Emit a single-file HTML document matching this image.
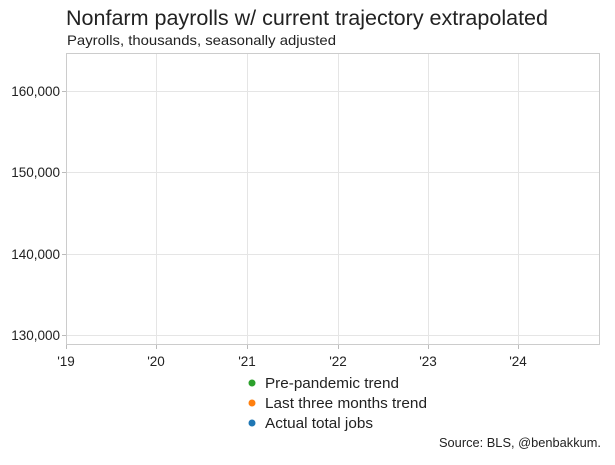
<!DOCTYPE html>
<html><head><style>
body{margin:0;background:#fff;}
svg text{font-family:"Liberation Sans",sans-serif;fill:#222;}
</style></head><body>
<svg width="615" height="460" xmlns="http://www.w3.org/2000/svg">
<text x="66" y="25" font-size="21" fill="#333" textLength="482" lengthAdjust="spacingAndGlyphs">Nonfarm payrolls w/ current trajectory extrapolated</text>
<text x="67" y="45" font-size="14" textLength="269" lengthAdjust="spacingAndGlyphs">Payrolls, thousands, seasonally adjusted</text>
<g stroke="#e5e5e5" stroke-width="1">
<line x1="156.5" y1="53" x2="156.5" y2="345"/>
<line x1="247.5" y1="53" x2="247.5" y2="345"/>
<line x1="338.5" y1="53" x2="338.5" y2="345"/>
<line x1="428.5" y1="53" x2="428.5" y2="345"/>
<line x1="518.5" y1="53" x2="518.5" y2="345"/>
<line x1="66" y1="91.5" x2="600" y2="91.5"/>
<line x1="66" y1="172.5" x2="600" y2="172.5"/>
<line x1="66" y1="254.5" x2="600" y2="254.5"/>
<line x1="66" y1="335.5" x2="600" y2="335.5"/>
</g>
<rect x="66.5" y="53.5" width="533" height="291" fill="none" stroke="#ccc"/>
<g stroke="#bbb">
<line x1="62" y1="91.5" x2="66" y2="91.5"/><line x1="62" y1="172.5" x2="66" y2="172.5"/>
<line x1="62" y1="254.5" x2="66" y2="254.5"/><line x1="62" y1="335.5" x2="66" y2="335.5"/>
<line x1="66.5" y1="345" x2="66.5" y2="349"/><line x1="156.5" y1="345" x2="156.5" y2="349"/>
<line x1="247.5" y1="345" x2="247.5" y2="349"/><line x1="338.5" y1="345" x2="338.5" y2="349"/>
<line x1="428.5" y1="345" x2="428.5" y2="349"/><line x1="518.5" y1="345" x2="518.5" y2="349"/>
</g>
<g font-size="13.5" text-anchor="end">
<text x="60" y="96">160,000</text><text x="60" y="177">150,000</text>
<text x="60" y="259">140,000</text><text x="60" y="340">130,000</text>
</g>
<g font-size="13.5" text-anchor="middle">
<text x="66" y="366">'19</text><text x="156" y="366">'20</text><text x="247" y="366">'21</text>
<text x="338" y="366">'22</text><text x="428" y="366">'23</text><text x="518" y="366">'24</text>
</g>
<circle cx="252" cy="383" r="3.5" fill="#2ca02c"/>
<circle cx="252" cy="403" r="3.5" fill="#ff7f0e"/>
<circle cx="252" cy="423" r="3.5" fill="#1f77b4"/>
<g font-size="14.5">
<text x="265" y="388" textLength="134" lengthAdjust="spacingAndGlyphs">Pre-pandemic trend</text>
<text x="265" y="408" textLength="162" lengthAdjust="spacingAndGlyphs">Last three months trend</text>
<text x="265" y="428" textLength="108" lengthAdjust="spacingAndGlyphs">Actual total jobs</text>
</g>
<text x="601" y="447" font-size="13" text-anchor="end" textLength="162" lengthAdjust="spacingAndGlyphs">Source: BLS, @benbakkum.</text>
</svg>
</body></html>
